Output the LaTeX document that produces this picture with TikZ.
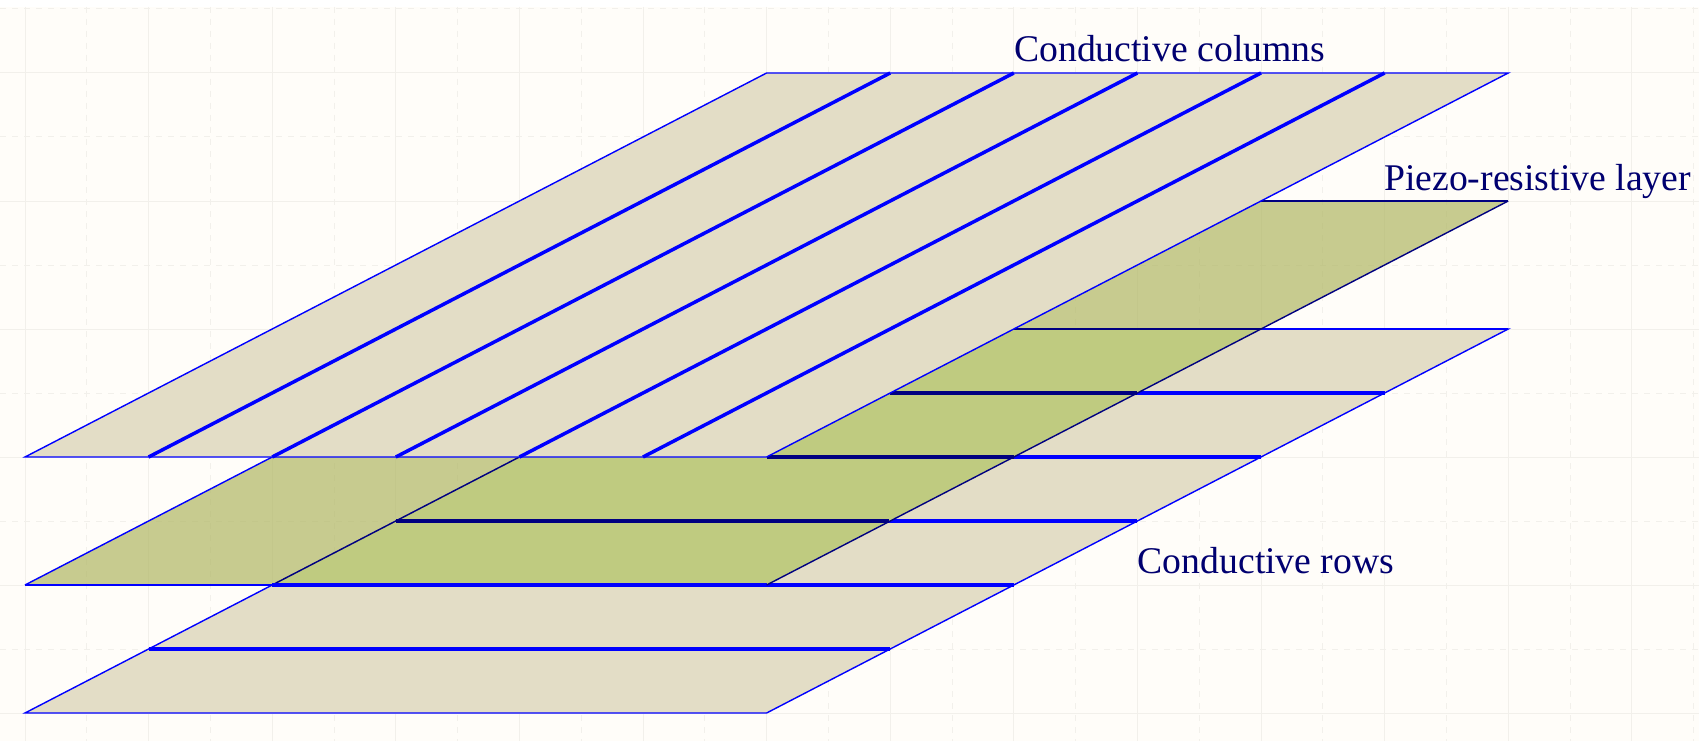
\documentclass[tikz,border=0pt]{standalone}
\usepackage{fontspec}
\setmainfont{Liberation Serif}
\definecolor{bgc}{HTML}{FFFDF9}
\definecolor{gridc}{HTML}{F2F0EB}
\definecolor{layerc}{HTML}{E3DDC6}
\definecolor{piezoc}{HTML}{B0B763}
\definecolor{overlapc}{HTML}{BFCB80}
\definecolor{bluec}{HTML}{0000FF}
\definecolor{navyc}{HTML}{000080}
\definecolor{textc}{HTML}{000070}
\tikzset{
  gridsolid/.style={gridc,line width=1pt},
  griddash/.style={gridc,line width=1pt,dash pattern=on 6pt off 6pt},
  layer/.style={fill=layerc,draw=bluec,line width=1.4pt,line join=miter},
  conductor/.style={bluec,line width=3.5pt},
  underpiezo/.style={navyc,line width=3.5pt},
  thinedge/.style={bluec,line width=1.4pt},
  darkedge/.style={navyc,line width=1.4pt},
  piezofill/.style={fill=piezoc,fill opacity=0.7},
  lbl/.style={anchor=base west,inner sep=0pt,text=textc,font=\fontsize{37.7}{40}\selectfont}
}
\begin{document}
\begin{tikzpicture}[x=1pt,y=-1pt]
\useasboundingbox (0,0) rectangle (1699,741);
\fill[white] (0,0) rectangle (1699,741);
\fill[bgc] (0,7) rectangle (1699,741);
% grid
\foreach \x in {25,148.6,272.2,395.8,519.4,643,766.6,890.2,1013.8,1137.4,1261,1384.6,1508.2,1631.8}
  \draw[gridsolid] (\x,7) -- (\x,741);
\foreach \x in {86.8,210.4,334,457.6,581.2,704.8,828.4,952,1075.6,1199.2,1322.8,1446.4,1570,1693.6}
  \draw[griddash] (\x,7) -- (\x,741);
\foreach \y in {73,201,329,457,585,713}
  \draw[gridsolid] (0,\y) -- (1699,\y);
\foreach \y in {9,137,265,393,521,649}
  \draw[griddash] (0,\y) -- (1699,\y);
% bottom layer: conductive rows
\coordinate (ba) at (25,713);
\coordinate (bb) at (766.6,713);
\coordinate (bc) at (1508.2,329);
\coordinate (bd) at (766.6,329);
\draw[layer] (ba) -- (bb) -- (bc) -- (bd) -- cycle;
\draw[conductor] (148.6,649) -- (890.2,649);
\draw[conductor] (272.2,585) -- (1013.8,585);
\draw[conductor] (395.8,521) -- (1137.4,521);
\draw[conductor] (766.6,457) -- (1261,457);
\draw[conductor] (890.2,393) -- (1384.6,393);
\draw[bluec,line width=2.4pt] (1013.8,329) -- (1508.2,329);
% piezo-resistive layer
\coordinate (pa) at (25,585);
\coordinate (pb) at (766.6,585);
\coordinate (pc) at (1508.2,201);
\coordinate (pd) at (766.6,201);
\path[piezofill] (pa) -- (pb) -- (pc) -- (pd) -- cycle;
\fill[overlapc] (272.2,585) -- (pb) -- (1261,329) -- (766.6,329) -- cycle;
\draw[underpiezo] (395.8,521) -- (889,521);
\draw[underpiezo] (890.2,393) -- (1137.4,393);
\draw[underpiezo] (766.6,457) -- (1013.8,457);
\draw[navyc,line width=2.4pt] (1013.8,329) -- (1261,329);
\draw[darkedge] (272.2,585) -- (519.4,457);
\draw[thinedge] (pa) -- (272.2,457);
\draw[thinedge] (pa) -- (272.2,585);
\draw[conductor] (272.2,585) -- (766.6,585);
\draw[darkedge] (pb) -- (pc);
\draw[navyc,line width=1.8pt] (1261,201) -- (pc);
% top layer: conductive columns
\coordinate (ta) at (25,457);
\coordinate (tb) at (766.6,457);
\coordinate (tc) at (1508.2,73);
\coordinate (td) at (766.6,73);
\draw[layer] (ta) -- (tb) -- (tc) -- (td) -- cycle;
\draw[conductor] (148.6,457) -- (890.2,73);
\draw[conductor] (272.2,457) -- (1013.8,73);
\draw[conductor] (395.8,457) -- (1137.4,73);
\draw[conductor] (519.4,457) -- (1261,73);
\draw[conductor] (643,457) -- (1384.6,73);
% labels
\node[lbl] (cols) at (1014,62) {Conductive columns};
\node[lbl] (piezo) at (1384,190) {Piezo-resistive layer};
\node[lbl] (rows) at (1137.5,573) {Conductive rows};
\end{tikzpicture}
\end{document}
